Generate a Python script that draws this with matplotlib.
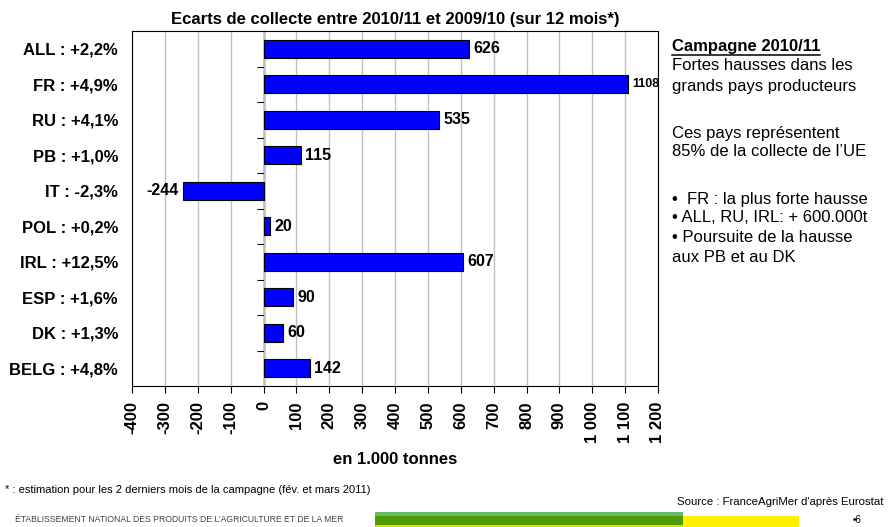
import matplotlib
matplotlib.use("Agg")
import matplotlib.pyplot as plt
from matplotlib.patches import Rectangle
from matplotlib.lines import Line2D
from matplotlib.ticker import FuncFormatter

# ---- data ----
categories = ["ALL : +2,2%", "FR : +4,9%", "RU : +4,1%", "PB : +1,0%", "IT : -2,3%",
              "POL : +0,2%", "IRL : +12,5%", "ESP : +1,6%", "DK : +1,3%", "BELG : +4,8%"]
values = [626, 1108, 535, 115, -244, 20, 607, 90, 60, 142]
x_ticks = list(range(-400, 1201, 100))

title = "Ecarts de collecte entre 2010/11 et 2009/10 (sur 12 mois*)"
xlabel = "en 1.000 tonnes"
side_heading = "Campagne 2010/11"
side_lines = ["Fortes hausses dans les", "grands pays producteurs", "",
              "Ces pays représentent", "85% de la collecte de l\u2019UE", "",
              "\u2022  FR : la plus forte hausse", "\u2022 ALL, RU, IRL: + 600.000t",
              "\u2022 Poursuite de la hausse", "aux PB et au DK"]
footnote = "* : estimation pour les 2 derniers mois de la campagne (fév. et mars 2011)"
source = "Source : FranceAgriMer d'après Eurostat"
footer = "ÉTABLISSEMENT NATIONAL DES PRODUITS DE L\u2019AGRICULTURE ET DE LA MER"
page = "\u20226"

# ---- style ----
W, H = 892, 527
plt.rcParams['font.family'] = ['Liberation Sans', 'DejaVu Sans']
fig = plt.figure(figsize=(W / 100, H / 100), dpi=100)
fig.patch.set_facecolor("white")

def fx(px):
    return px / W

def fy(py):
    return 1 - py / H

ax_left, ax_right, ax_top, ax_bottom = 132, 658, 31, 386
ax = fig.add_axes([fx(ax_left), fy(ax_bottom), fx(ax_right - ax_left), (ax_bottom - ax_top) / H])

ypos = list(range(len(categories)))
bars = ax.barh(ypos, values, height=0.5, color="#0000FF", edgecolor="black",
               linewidth=0.8, zorder=3)
xmin, xmax = x_ticks[0], x_ticks[-1]
ax.set_xlim(xmin, xmax)
ax.set_ylim(len(categories) - 0.5, -0.5)

ax.set_yticks(ypos)
ax.set_yticklabels(categories, fontsize=12, fontweight="bold")
ax.tick_params(axis="y", length=0, pad=10)

ax.set_xticks(x_ticks)
ax.xaxis.set_major_formatter(FuncFormatter(
    lambda v, p: f"{int(v):,}".replace(",", " ")))
ax.tick_params(axis="x", length=5, width=0.8, pad=6, labelsize=12,
               labelrotation=90)
for t in ax.get_xticklabels():
    t.set_fontweight("bold")

ax.grid(axis="x", color="#c0c0c0", linewidth=1, zorder=0)
ax.set_axisbelow(True)
for s in ax.spines.values():
    s.set_color("black")
    s.set_linewidth(0.8)

# zero line with category boundary ticks
zero_loc = (0 - xmin) / (xmax - xmin)
sec = ax.secondary_yaxis(zero_loc)
sec.set_yticks([y + 0.5 for y in ypos[:-1]])
sec.set_yticklabels([])
sec.tick_params(axis="y", length=5, width=0.8, direction="out")
sec.spines["left"].set_linewidth(1.0)
sec.spines["left"].set_color("black")

labels = ax.bar_label(bars, fmt="%d", padding=3, fontsize=11.5, fontweight="bold")
for v, t in zip(values, labels):
    if v == max(values):
        t.set_fontsize(9)

ax.set_title(title, fontsize=12, fontweight="bold", pad=5)
fig.text(fx(395), fy(460), xlabel, fontsize=12, fontweight="bold",
         ha="center", va="center")

# side text
head = fig.text(fx(672), fy(46), side_heading, fontsize=12, fontweight="bold",
                ha="left", va="center")
line_y = [66, 86, None, 133, 152, None, 199, 218, 238, 257]
for txt, yy in zip(side_lines, line_y):
    if yy is None:
        continue
    fig.text(fx(672), fy(yy), txt, fontsize=12, ha="left", va="center")

fig.canvas.draw()
bb = head.get_window_extent(fig.canvas.get_renderer())
uy = bb.y0 - 1
fig.add_artist(Line2D([bb.x0 / W, bb.x1 / W], [uy / H, uy / H], color="black",
                      linewidth=1.1, transform=fig.transFigure))

fig.text(fx(5), fy(490), footnote, fontsize=8, ha="left", va="center")
fig.text(fx(677), fy(502), source, fontsize=8.2, ha="left", va="center")
fig.text(fx(15), fy(520), footer, fontsize=6.2, color="#444444", ha="left", va="center")
fig.text(fx(853), fy(520), page, fontsize=7, ha="left", va="center")

# footer bands
def band(x0, x1, y0, y1, color):
    fig.add_artist(Rectangle((fx(x0), fy(y1)), fx(x1 - x0), (y1 - y0) / H,
                             transform=fig.transFigure, color=color, lw=0))

band(375, 683, 512, 516, "#66BB66")
band(375, 683, 516, 525, "#4F9A00")
band(375, 683, 525, 527, "#D8E000")
band(683, 799, 516, 527, "#FFF000")

fig.savefig("out.png", dpi=100, facecolor="white")
